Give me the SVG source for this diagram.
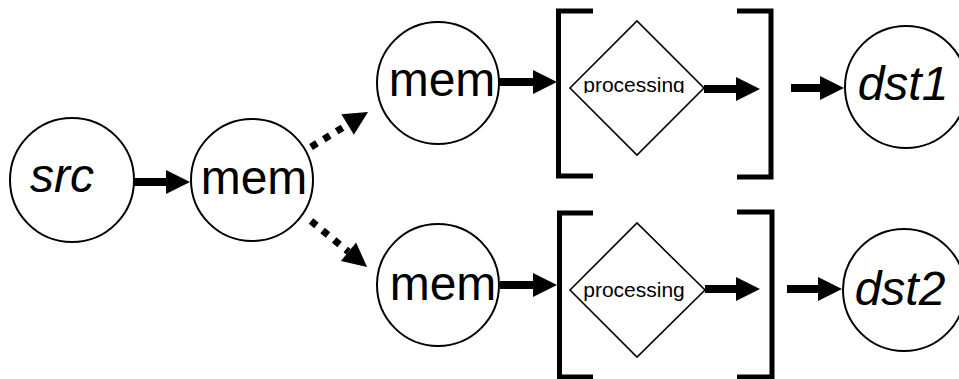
<svg xmlns="http://www.w3.org/2000/svg" width="959" height="379" viewBox="0 0 959 379">
<defs>
<style>
.node{fill:#fff;stroke:#000;stroke-width:2}
.dia{fill:#fff;stroke:#000;stroke-width:1.6}
.br{fill:none;stroke:#000;stroke-width:5}
.lbl{font-family:"Liberation Sans",Arial,sans-serif;font-size:48px;fill:#000;text-anchor:middle}
.it{font-style:italic}
.proc{font-family:"Liberation Sans",Arial,sans-serif;font-size:21px;fill:#000;text-anchor:middle}
.arr{stroke:#000;stroke-width:8;fill:none;marker-end:url(#ah)}
.dash{stroke:#000;stroke-width:7;fill:none;stroke-dasharray:7 8;marker-end:url(#ah)}
</style>
<marker id="ah" markerUnits="userSpaceOnUse" markerWidth="24" markerHeight="24" refX="0" refY="12" orient="auto" overflow="visible">
<path d="M0,0 L24,12 L0,24 Z" fill="#000"/>
</marker>
<clipPath id="clipTop"><rect x="560" y="0" width="200" height="93"/></clipPath>
</defs>
<rect width="959" height="379" fill="#fff"/>
<g id="src"><circle class="node" cx="72" cy="180" r="62"/><text class="lbl it" x="62" y="192">src</text></g>
<g id="mem0"><circle class="node" cx="252" cy="180" r="61"/><text class="lbl" x="254" y="194">mem</text></g>
<g id="mem1"><circle class="node" cx="438" cy="83" r="61"/><text class="lbl" x="442" y="96">mem</text></g>
<g id="mem2"><circle class="node" cx="438" cy="285" r="61"/><text class="lbl" x="443" y="300">mem</text></g>
<g id="proc1"><path class="br" d="M593,11 H558.5 V176 H593"/><path class="br" d="M737,11 H771 V177 H737"/><polygon class="dia" points="570,88 637,21 704,88 637,155"/><text class="proc" x="634" y="92" clip-path="url(#clipTop)">processing</text></g>
<g id="proc2"><path class="br" d="M593,213 H559.5 V377 H593"/><path class="br" d="M737,212 H772 V377 H737"/><polygon class="dia" points="570,290 637,223 705,290 637,357"/><text class="proc" x="634" y="297">processing</text></g>
<g id="dst1"><circle class="node" cx="906" cy="87" r="61"/><text class="lbl it" x="903" y="100">dst1</text></g>
<g id="dst2"><circle class="node" cx="904" cy="290" r="61"/><text class="lbl it" x="900" y="305">dst2</text></g>
<g id="connectors">
<line class="arr" x1="134" y1="182" x2="166" y2="182"/>
<line class="dash" x1="311" y1="147" x2="347.6" y2="124.6"/>
<line class="dash" x1="311" y1="221" x2="348.5" y2="251.8"/>
<line class="arr" x1="499" y1="82" x2="533" y2="82"/>
<line class="arr" x1="704" y1="89" x2="736" y2="89"/>
<line class="arr" x1="791" y1="88" x2="820" y2="88"/>
<line class="arr" x1="500" y1="285" x2="533" y2="285"/>
<line class="arr" x1="705" y1="289" x2="736" y2="289"/>
<line class="arr" x1="787" y1="289" x2="818" y2="289"/>
</g>
</svg>
